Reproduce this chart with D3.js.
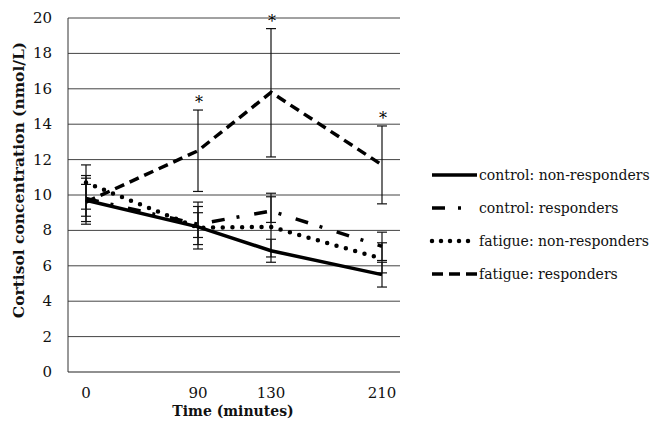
<!DOCTYPE html>
<html>
<head>
<meta charset="utf-8">
<script src="https://cdn.jsdelivr.net/npm/d3@7"></script>
<style>
  body { margin: 0; background: #fff; }
  svg text { font-family: "DejaVu Serif", serif; fill: #111; }
</style>
</head>
<body>
<svg id="chart" width="653" height="431"></svg>
<script>
// Time points (minutes) and y ticks
var times = [0, 90, 130, 210]
var yTicks = [0, 2, 4, 6, 8, 10, 12, 14, 16, 18, 20]

// Series values (nmol/L)
var controlNonResp = [9.7, 8.2, 6.85, 5.5]
var controlResp = [9.8, 8.35, 9.1, 7.1]
var fatigueNonResp = [10.7, 8.15, 8.2, 6.4]
var fatigueResp = [9.6, 12.5, 15.8, 11.7]

// Error bar ends
var controlNonRespHi = [10.6, 9.35, 7.5, 6.2]
var controlNonRespLo = [8.8, 7.2, 6.2, 4.8]
var controlRespHi = [10.95, 9.6, 10.1, 7.9]
var controlRespLo = [8.5, 6.95, 8.45, 6.3]
var fatigueNonRespHi = [11.1, 9.0, 9.9, 7.3]
var fatigueNonRespLo = [9.2, 7.6, 6.5, 5.6]
var fatigueRespHi = [11.7, 14.8, 19.4, 13.9]
var fatigueRespLo = [8.35, 10.2, 12.15, 9.5]

// significance markers for fatigue responders
var significant = [false, true, true, true]

var seriesNames = ['control: non-responders', 'control: responders', 'fatigue: non-responders', 'fatigue: responders']

var series = [
    { name: seriesNames[0], values: controlNonResp, hi: controlNonRespHi, lo: controlNonRespLo, dash: null, legendDash: null, width: 3.5, cap: 'butt' },
    { name: seriesNames[1], values: controlResp, hi: controlRespHi, lo: controlRespLo, dash: '13,12,3,15', legendDash: '13,13,3,30', width: 3.5, cap: 'butt' },
    { name: seriesNames[2], values: fatigueNonResp, hi: fatigueNonRespHi, lo: fatigueNonRespLo, dash: '0,9.7', legendDash: '0,9', width: 4.5, cap: 'round' },
    { name: seriesNames[3], values: fatigueResp, hi: fatigueRespHi, lo: fatigueRespLo, dash: '10,6', legendDash: '11,6', width: 3.5, cap: 'butt' }
]

var svg = d3.select('#chart')

var plotLeft = 68, plotRight = 400, plotTop = 18, plotBottom = 372

// time axis is not proportional in the original, so map each tick
var xScale = d3.scaleLinear().domain(times).range([86, 198, 271, 382])
var yScale = d3.scaleLinear().domain([0, 20]).range([plotBottom, plotTop])

// gridlines
svg.append('g')
    .selectAll('line')
    .data(yTicks.filter(d => d > 0))
    .enter()
    .append('line')
    .attr('x1', plotLeft)
    .attr('x2', plotRight)
    .attr('y1', d => yScale(d))
    .attr('y2', d => yScale(d))
    .attr('stroke', '#444')
    .attr('stroke-width', 1)

// axes lines
svg.append('line').attr('x1', plotLeft).attr('x2', plotLeft).attr('y1', plotTop).attr('y2', plotBottom).attr('stroke', '#333')
svg.append('line').attr('x1', plotLeft).attr('x2', plotRight).attr('y1', plotBottom).attr('y2', plotBottom).attr('stroke', '#222').attr('stroke-width', 1.2)

// y tick labels
svg.append('g')
    .selectAll('text')
    .data(yTicks)
    .enter()
    .append('text')
    .attr('x', 52)
    .attr('y', d => yScale(d) + 5)
    .attr('text-anchor', 'end')
    .style('font-size', '15px')
    .text(d => d)

// x tick labels
svg.append('g')
    .selectAll('text')
    .data(times)
    .enter()
    .append('text')
    .attr('x', d => xScale(d))
    .attr('y', 398)
    .attr('text-anchor', 'middle')
    .style('font-size', '15px')
    .text(d => d)

// axis titles
svg.append('text')
    .attr('x', 233)
    .attr('y', 416)
    .attr('text-anchor', 'middle')
    .style('font-size', '14px')
    .style('font-weight', 'bold')
    .text('Time (minutes)')

svg.append('text')
    .attr('transform', `translate(24, 180) rotate(-90)`)
    .attr('text-anchor', 'middle')
    .style('font-size', '15.5px')
    .style('font-weight', 'bold')
    .text('Cortisol concentration (nmol/L)')

// error bars
var bars = svg.append('g').attr('id', 'errors')
series.forEach(s => {
    times.forEach((t, i) => {
        let x = xScale(t)
        bars.append('line')
            .attr('x1', x).attr('x2', x)
            .attr('y1', yScale(s.hi[i])).attr('y2', yScale(s.lo[i]))
            .attr('stroke', '#111').attr('stroke-width', 1.2)
        bars.append('line')
            .attr('x1', x - 5).attr('x2', x + 5)
            .attr('y1', yScale(s.hi[i])).attr('y2', yScale(s.hi[i]))
            .attr('stroke', '#111').attr('stroke-width', 1.2)
        bars.append('line')
            .attr('x1', x - 5).attr('x2', x + 5)
            .attr('y1', yScale(s.lo[i])).attr('y2', yScale(s.lo[i]))
            .attr('stroke', '#111').attr('stroke-width', 1.2)
    })
})

// lines
var line = d3.line()
    .x((d, i) => xScale(times[i]))
    .y(d => yScale(d))

svg.append('g')
    .selectAll('path')
    .data(series)
    .enter()
    .append('path')
    .attr('d', d => line(d.values))
    .attr('fill', 'none')
    .attr('stroke', '#000')
    .attr('stroke-width', d => d.width)
    .attr('stroke-linecap', d => d.cap)
    .attr('stroke-dasharray', d => d.dash)

// asterisks above fatigue responders error bars
svg.append('g')
    .selectAll('text')
    .data(times.filter((t, i) => significant[i]))
    .enter()
    .append('text')
    .attr('x', d => xScale(d) + 1)
    .attr('y', d => yScale(fatigueRespHi[times.indexOf(d)]) - 2)
    .attr('text-anchor', 'middle')
    .style('font-size', '16px')
    .style('fill', '#000')
    .text('*')

// legend
var legend = svg.append('g')
    .selectAll('g')
    .data(series)
    .enter()
    .append('g')
    .attr('transform', (d, i) => `translate(432, ${175 + i * 33})`)

legend.append('line')
    .attr('x1', 0)
    .attr('x2', 45)
    .attr('stroke', '#000')
    .attr('stroke-width', d => d.width)
    .attr('stroke-linecap', d => d.cap)
    .attr('stroke-dasharray', d => d.legendDash)

legend.append('text')
    .attr('x', 47)
    .attr('y', 5)
    .style('font-size', '14px')
    .text(d => d.name)
</script>
</body>
</html>
